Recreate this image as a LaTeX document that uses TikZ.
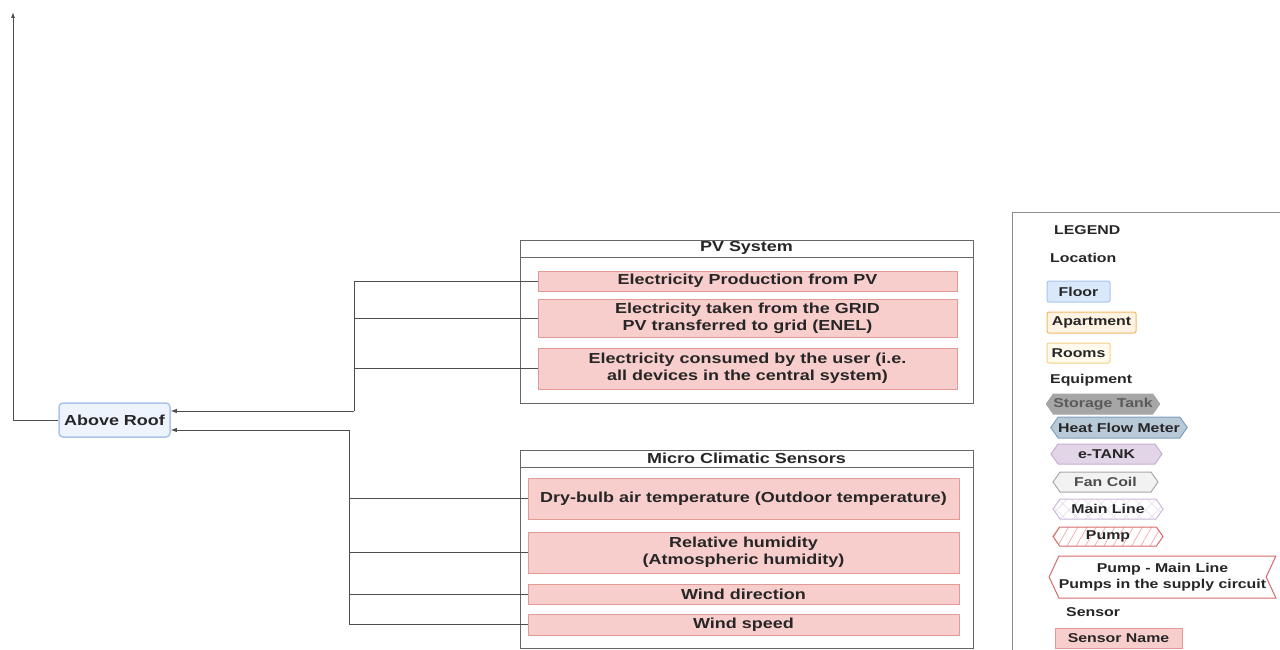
\documentclass[tikz,border=0pt]{standalone}
\usepackage{fontspec}
\newfontfamily\diagfont{Liberation Sans}[FakeStretch=1.24]
\usepackage{tikz}
\usetikzlibrary{arrows.meta,calc,patterns,patterns.meta,shapes.symbols}

\definecolor{sensorfill}{HTML}{F8CECC}
\definecolor{sensordraw}{HTML}{E09A97}
\definecolor{floorfill}{HTML}{DAE8FC}
\definecolor{floordraw}{HTML}{A9C4EB}
\definecolor{rooffill}{HTML}{EEF4FD}
\definecolor{aptfill}{HTML}{FFF3E4}
\definecolor{aptdraw}{HTML}{F2B866}
\definecolor{roomfill}{HTML}{FFFAEC}
\definecolor{roomdraw}{HTML}{F3D188}
\definecolor{tankfill}{HTML}{A6A6A6}
\definecolor{tanktext}{HTML}{5A5A5A}
\definecolor{hfmfill}{HTML}{B8C9D8}
\definecolor{hfmdraw}{HTML}{7F9FBF}
\definecolor{etankfill}{HTML}{E1D5E7}
\definecolor{etankdraw}{HTML}{C5AED3}
\definecolor{fanfill}{HTML}{F2F2F2}
\definecolor{fandraw}{HTML}{A8A8A8}
\definecolor{mainhatch}{HTML}{E6DCF0}
\definecolor{maindraw}{HTML}{C9B8DA}
\definecolor{pumphatch}{HTML}{F2A8A8}
\definecolor{pumpdraw}{HTML}{D86A6A}
\definecolor{linkgray}{HTML}{4D4D4D}
\definecolor{grpline}{HTML}{666666}

\tikzset{
  lbl/.style={font=\diagfont\bfseries\fontsize{14.5}{17}\selectfont, align=center, inner sep=0pt, text=black!85},
  legtxt/.style={font=\diagfont\bfseries\fontsize{12.8}{15.5}\selectfont, align=center, inner sep=0pt, text=black!85},
  sensorbox/.style={lbl, draw=sensordraw, fill=sensorfill, line width=1pt},
  groupbox/.style={draw=grpline, line width=0.8pt},
  link/.style={draw=linkgray, line width=1pt},
  tohead/.style={link, -{Latex[length=6pt,width=4.5pt]}},
  equip/.style={legtxt, signal, signal to=west and east, signal pointer angle=110, line width=1pt},
}

\begin{document}
\begin{tikzpicture}[x=1pt,y=-1pt]
\useasboundingbox (0,0) rectangle (1280,650);

% location
\node[lbl, draw=floordraw, fill=rooffill, rounded corners=4pt, line width=1.5pt,
  minimum width=111, minimum height=34] (roof) at (114.5,420) {Above Roof};
\coordinate (sky) at (13,12);
\draw[link, -{Latex[length=6pt,width=4pt]}] (roof.west) -| (sky);

% PV system
\node[groupbox, minimum width=453, minimum height=163] (pvgrp) at (746.5,321.5) {};
\node[lbl, anchor=north, minimum width=453, minimum height=17] (pvtitle) at (pvgrp.north) {PV System};
\draw[groupbox] (pvtitle.south west) -- (pvtitle.south east);
\node[sensorbox, minimum width=419, minimum height=20] (pvprod) at (747.5,281) {Electricity Production from PV};
\node[sensorbox, minimum width=419, minimum height=38] (pvgrid) at (747.5,318) {Electricity taken from the GRID\\PV transferred to grid (ENEL)};
\node[sensorbox, minimum width=419, minimum height=41] (pvuser) at (747.5,368.5) {Electricity consumed by the user (i.e.\\all devices in the central system)};

\coordinate (pvjoin) at (354,411);
\draw[link] (pvprod.west) -| (pvjoin);
\draw[link] (pvgrid.west) -| (pvjoin);
\draw[link] (pvuser.west) -| (pvjoin);
\draw[tohead] (pvjoin) -- (roof.east |- pvjoin);

% micro climatic sensors
\node[groupbox, minimum width=453, minimum height=198] (mcgrp) at (746.5,549) {};
\node[lbl, anchor=north, minimum width=453, minimum height=17] (mctitle) at (mcgrp.north) {Micro Climatic Sensors};
\draw[groupbox] (mctitle.south west) -- (mctitle.south east);
\node[sensorbox, minimum width=431, minimum height=41] (drybulb) at (743.5,498.5) {Dry-bulb air temperature (Outdoor temperature)};
\node[sensorbox, minimum width=431, minimum height=41] (relhum) at (743.5,552.5) {Relative humidity\\(Atmospheric humidity)};
\node[sensorbox, minimum width=431, minimum height=20] (winddir) at (743.5,594) {Wind direction};
\node[sensorbox, minimum width=431, minimum height=21] (windspd) at (743.5,624.5) {Wind speed};

\coordinate (mcjoin) at (349,430);
\draw[link] (drybulb.west) -| (mcjoin);
\draw[link] (relhum.west) -| (mcjoin);
\draw[link] (winddir.west) -| (mcjoin);
\draw[link] (windspd.west) -| (mcjoin);
\draw[tohead] (mcjoin) -- (roof.east |- mcjoin);

% legend
\draw[draw=black!45, line width=0.8pt] (1012,650) -- (1012,212) -- (1280,212);
\node[legtxt, anchor=west] (leghead) at (1054,230) {LEGEND};
\node[legtxt, anchor=west] (legloc) at (1050,258) {Location};
\node[legtxt, draw=floordraw, fill=floorfill, rounded corners=2pt, line width=1pt,
  minimum width=63, minimum height=21] (legfloor) at (1078.5,291.5) {Floor};
\node[legtxt, draw=aptdraw, fill=aptfill, rounded corners=2pt, line width=1pt,
  minimum width=89, minimum height=21] (legapt) at (1091.5,322.5) {Apartment};
\node[legtxt, draw=roomdraw, fill=roomfill, rounded corners=2pt, line width=1pt,
  minimum width=63, minimum height=20] (legroom) at (1078.5,353) {Rooms};
\node[legtxt, anchor=west] (legequip) at (1050,380) {Equipment};
\node[equip, draw=tankfill, fill=tankfill, text=tanktext,
  minimum width=110, minimum height=20] (legtank) at (1103,404) {Storage Tank};
\node[equip, draw=hfmdraw, fill=hfmfill,
  minimum width=136, minimum height=21] (leghfm) at (1119,427.5) {Heat Flow Meter};
\node[equip, draw=etankdraw, fill=etankfill,
  minimum width=111, minimum height=20] (legetank) at (1106.5,454) {e-TANK};
\node[equip, draw=fandraw, fill=fanfill, text=black!70,
  minimum width=105, minimum height=20] (legfan) at (1105.5,482) {Fan Coil};
\node[equip, draw=maindraw, pattern={Hatch[angle=45,distance=9pt,line width=0.6pt]}, pattern color=mainhatch,
  minimum width=110, minimum height=20] (legmain) at (1108,509) {Main Line};
\node[equip, draw=pumpdraw, pattern={Lines[angle=60,distance=8pt,line width=0.7pt]}, pattern color=pumphatch,
  minimum width=110, minimum height=19] (legpump) at (1108,536.5) {Pump};
\node[legtxt, signal, signal to=west, signal from=east, signal pointer angle=130,
  draw=pumpdraw, fill=white, line width=1pt,
  minimum width=225, minimum height=42] (legpumpmain) at (1162.5,577) {Pump - Main Line\\Pumps in the supply circuit};
\node[legtxt, anchor=west] (legsens) at (1066,612) {Sensor};
\node[legtxt, draw=sensordraw, fill=sensorfill, line width=1pt,
  minimum width=127, minimum height=20] (legsname) at (1118.5,638) {Sensor Name};
\end{tikzpicture}
\end{document}
